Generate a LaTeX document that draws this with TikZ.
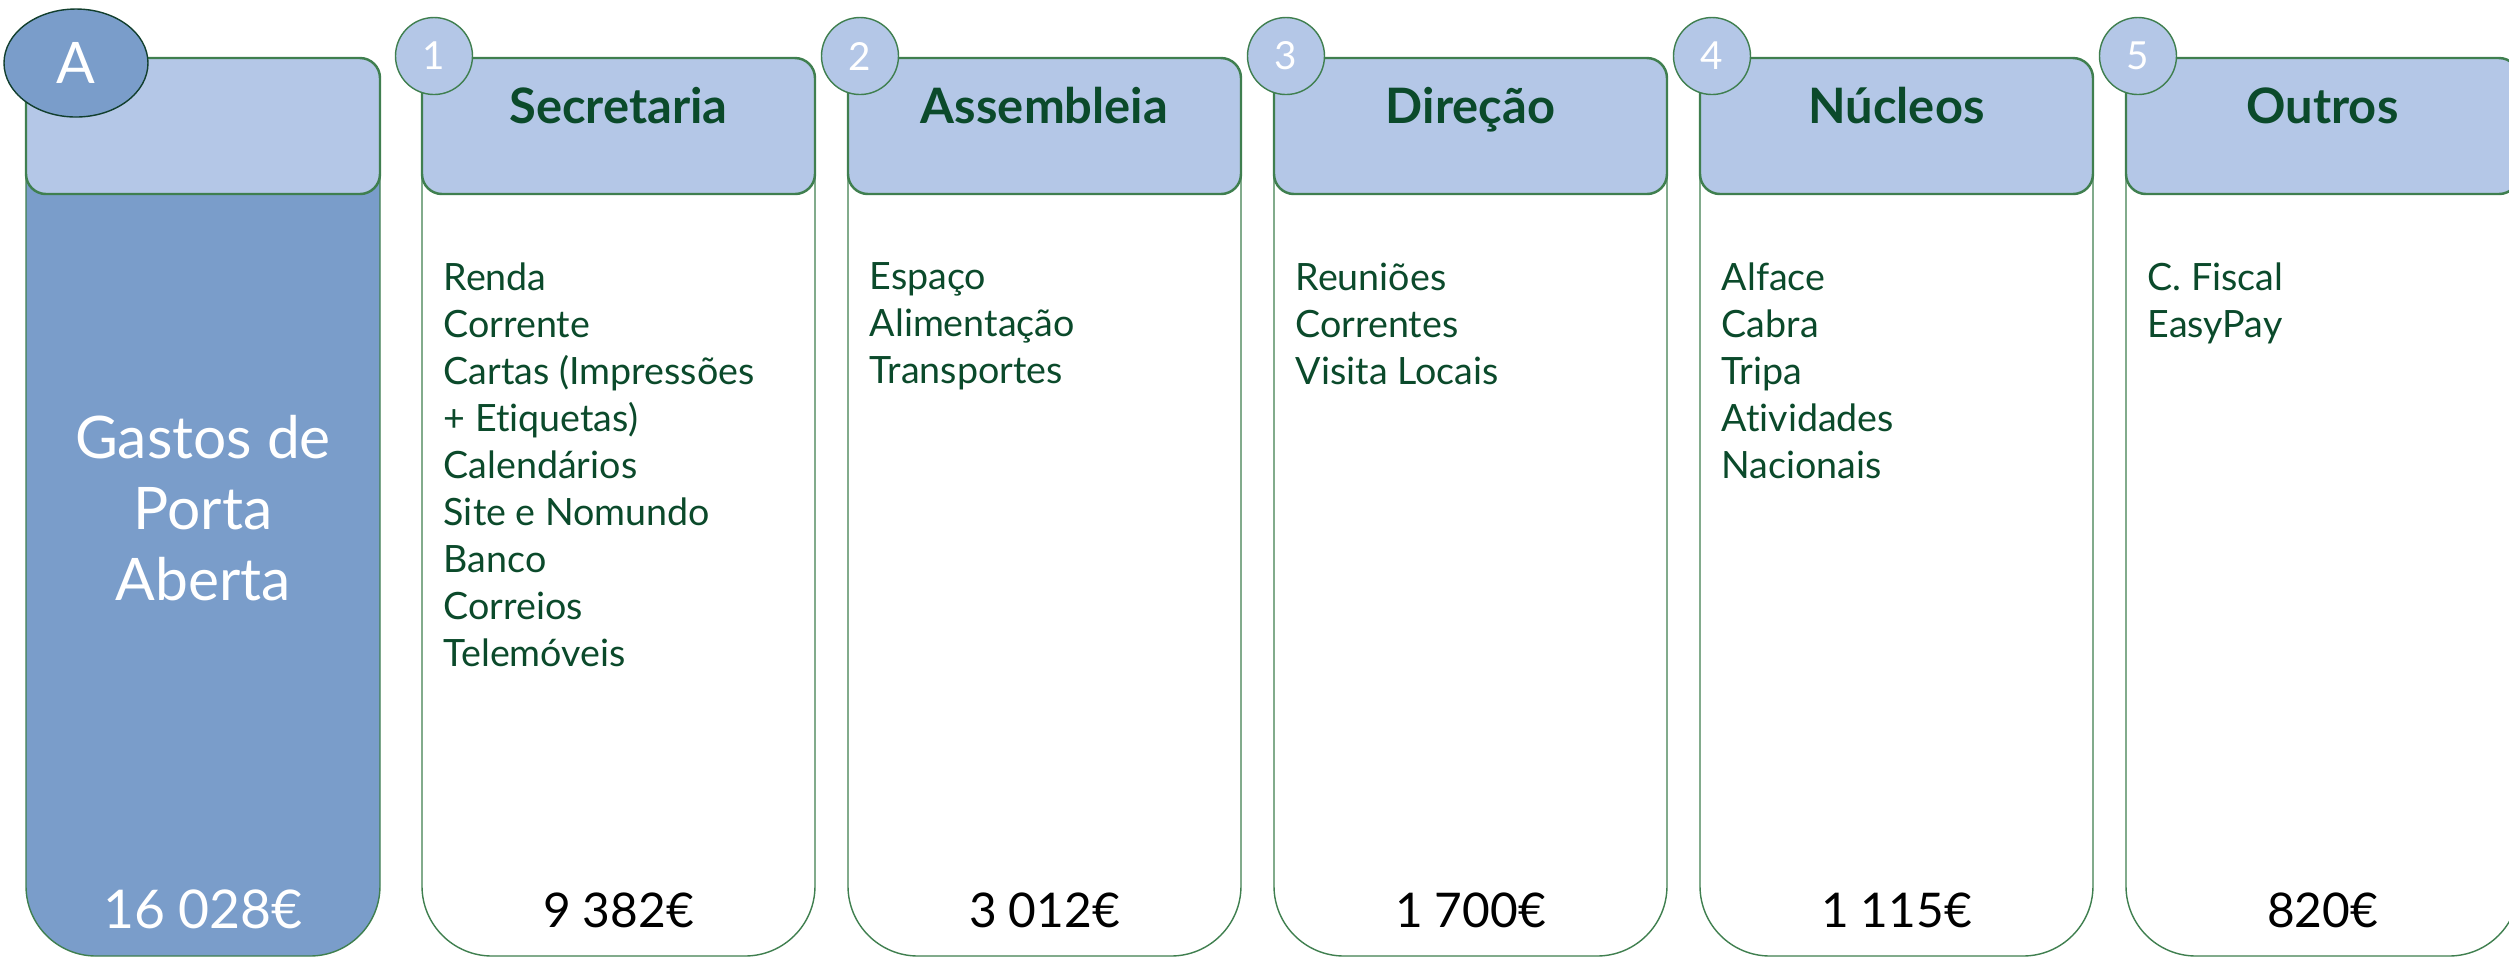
\documentclass[tikz,border=0pt]{standalone}
\usepackage{fontspec}
\setmainfont{Lato}[Ligatures=NoCommon]
\usepackage{tikz}
\usetikzlibrary{positioning,shapes.geometric}
\definecolor{headblue}{HTML}{B4C7E7}
\definecolor{darkblue}{HTML}{7A9DCA}
\definecolor{linegreen}{HTML}{3F7F4F}
\definecolor{textgreen}{HTML}{0B4A2B}
\definecolor{ringgreen}{HTML}{123F2E}
\tikzset{col node/.style={rectangle, draw=linegreen, line width=0.4pt, fill=white, rounded corners=7mm, minimum width=39.3mm, minimum height=89.8mm, inner sep=0pt, outer sep=0pt},
  head node/.style={rectangle, draw=linegreen, line width=0.7pt, fill=headblue, rounded corners=2mm, minimum width=39.3mm, minimum height=13.6mm, inner sep=0pt, outer sep=0pt, anchor=north},
  num node/.style={circle, draw=linegreen, line width=0.4pt, fill=headblue, minimum size=7.7mm, inner sep=0pt, text=white, font=\fontsize{11}{13}\selectfont},
  title node/.style={anchor=base, text=textgreen, font=\fontsize{13.9}{16}\selectfont\bfseries, inner sep=0pt},
  item node/.style={anchor=north west, align=left, text=textgreen, font=\fontsize{10.7}{13.37}\selectfont, inner sep=0pt},
  sum node/.style={anchor=base, font=\fontsize{13.6}{16}\selectfont, inner sep=0pt},}

\begin{document}
\begin{tikzpicture}[x=0.1mm, y=-0.1mm]
        \clip (0,0) rectangle (2509,956);
        % Columns
        \node[col node, fill=darkblue, minimum width=35.4mm, anchor=north west] (a) at (26,58) {};
        \node[col node] [right=4.2mm of a] (c1) {};
        \node[col node] [right=3.3mm of c1] (c2) {};
        \node[col node] [right=3.3mm of c2] (c3) {};
        \node[col node] [right=3.3mm of c3] (c4) {};
        \node[col node] [right=3.3mm of c4] (c5) {};
        % Headers
        \node[head node, minimum width=35.4mm] (ha) at (a.north) {};
        \node[head node] (h1) at (c1.north) {};
        \node[head node] (h2) at (c2.north) {};
        \node[head node] (h3) at (c3.north) {};
        \node[head node] (h4) at (c4.north) {};
        \node[head node] (h5) at (c5.north) {};
        \node[title node] (t1) at ([yshift=-6.5mm]h1.north) {Secretaria};
        \node[title node] (t2) at ([yshift=-6.5mm]h2.north) {Assembleia};
        \node[title node] (t3) at ([yshift=-6.5mm]h3.north) {Direção};
        \node[title node] (t4) at ([yshift=-6.5mm]h4.north) {Núcleos};
        \node[title node] (t5) at ([yshift=-6.5mm]h5.north) {Outros};
        % Badges
        \node[ellipse, draw=ringgreen, line width=0.4pt, fill=darkblue, minimum width=14.4mm, minimum height=10.8mm, inner sep=0pt, text=white, font=\fontsize{16.3}{18}\selectfont] (ea) at ([xshift=5mm, yshift=-0.5mm]a.north west) {A};
        \node[num node] (n1) at ([xshift=1.2mm, yshift=0.2mm]c1.north west) {1};
        \node[num node] (n2) at ([xshift=1.2mm, yshift=0.2mm]c2.north west) {2};
        \node[num node] (n3) at ([xshift=1.2mm, yshift=0.2mm]c3.north west) {3};
        \node[num node] (n4) at ([xshift=1.2mm, yshift=0.2mm]c4.north west) {4};
        \node[num node] (n5) at ([xshift=1.2mm, yshift=0.2mm]c5.north west) {5};
        % Items
        \node[anchor=north, align=center, text=white, font=\fontsize{16.7}{20.2}\selectfont, inner sep=0pt] (ga) at ([yshift=-35.7mm]a.north) {Gastos de\\Porta\\Aberta};
        \node[item node] (l1) at ([xshift=2.1mm, yshift=-20.4mm]c1.north west) {Renda\\Corrente\\Cartas (Impressões\\+ Etiquetas)\\Calendários\\Site e Nomundo\\Banco\\Correios\\Telemóveis};
        \node[item node] (l2) at ([xshift=2.1mm, yshift=-20.4mm]c2.north west) {Espaço\\Alimentação\\Transportes};
        \node[item node] (l3) at ([xshift=2.1mm, yshift=-20.4mm]c3.north west) {Reuniões\\Correntes\\Visita Locais};
        \node[item node] (l4) at ([xshift=2.1mm, yshift=-20.4mm]c4.north west) {Alface\\Cabra\\Tripa\\Atividades\\Nacionais};
        \node[item node] (l5) at ([xshift=2.1mm, yshift=-20.4mm]c5.north west) {C. Fiscal\\EasyPay};
        % Sums
        \node[sum node, text=white, font=\fontsize{15.2}{18}\selectfont] (sa) at ([yshift=2.8mm]a.south) {16 028€};
        \node[sum node] (s1) at ([yshift=2.9mm]c1.south) {9 382€};
        \node[sum node] (s2) at ([yshift=2.9mm]c2.south) {3 012€};
        \node[sum node] (s3) at ([yshift=2.9mm]c3.south) {1 700€};
        \node[sum node] (s4) at ([yshift=2.9mm]c4.south) {1 115€};
        \node[sum node] (s5) at ([yshift=2.9mm]c5.south) {820€};
    \end{tikzpicture}
\end{document}
